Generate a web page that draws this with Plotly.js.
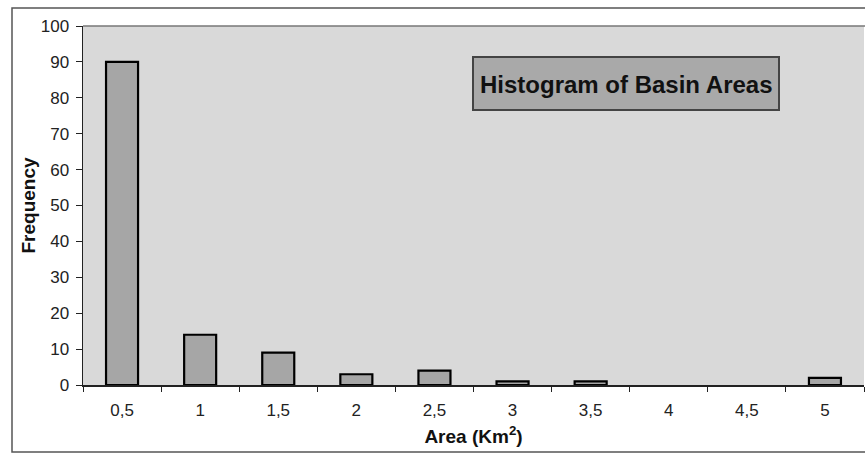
<!DOCTYPE html>
<html>
<head>
<meta charset="utf-8">
<script src="https://cdn.plot.ly/plotly-3.0.1.min.js"></script>
<style>html,body{margin:0;padding:0;background:#fff;}#chart{width:865px;height:457px;}</style>
</head>
<body>
<div id="chart"></div>
<script>
var categories = ["0,5", "1", "1,5", "2", "2,5", "3", "3,5", "4", "4,5", "5"];
var frequency = [90, 14, 9, 3, 4, 1, 1, 0, 0, 2];
var yTicks = [0, 10, 20, 30, 40, 50, 60, 70, 80, 90, 100];

var W = 865, H = 457, L = 83, R = 1, T = 26, B = 72;
var pw = W - L - R, ph = H - T - B;
function px(x) { return (x - L) / pw; }
function py(y) { return (H - B - y) / ph; }

var trace = {
  type: "bar",
  x: categories,
  y: frequency,
  width: 0.41,
  marker: {
    color: "#a6a6a6",
    line: { color: "#000", width: frequency.map(function (v) { return v > 0 ? 2.2 : 0; }) }
  },
  hoverinfo: "x+y"
};

var layout = {
  width: W, height: H,
  margin: { l: L, r: R, t: T, b: B, pad: 0 },
  paper_bgcolor: "#ffffff",
  plot_bgcolor: "#d9d9d9",
  showlegend: false,
  font: { family: "Arial, 'Liberation Sans', sans-serif", color: "#1a1a1a" },
  xaxis: {
    type: "category",
    tickson: "boundaries",
    ticks: "outside", ticklen: 5, tickwidth: 1, tickcolor: "#222",
    ticklabelstandoff: 9,
    showline: true, linecolor: "#222", linewidth: 1.5,
    showgrid: false, zeroline: false,
    tickfont: { size: 17, color: "#222" },
    title: { text: "<b>Area (Km<sup>2</sup>)</b>", font: { size: 19, color: "#111" }, standoff: 11 },
    fixedrange: true
  },
  yaxis: {
    range: [0, 100],
    tickvals: yTicks,
    ticks: "outside", ticklen: 6, tickwidth: 1, tickcolor: "#222",
    ticklabelstandoff: 3,
    showline: true, linecolor: "#222", linewidth: 1.5,
    showgrid: false, zeroline: false,
    tickfont: { size: 17, color: "#222" },
    title: { text: "<b>Frequency</b>", font: { size: 19, color: "#111" }, standoff: 0 },
    fixedrange: true
  },
  shapes: [
    { type: "rect", xref: "paper", yref: "paper", x0: px(12), x1: px(880), y0: py(452), y1: py(8),
      line: { color: "#555", width: 1.5 }, fillcolor: "rgba(0,0,0,0)", layer: "below" },
    { type: "line", xref: "paper", yref: "paper", x0: 0, x1: 1.02, y0: 1, y1: 1,
      line: { color: "#777", width: 1.5 } },
    { type: "rect", xref: "paper", yref: "paper", x0: px(473), x1: px(779), y0: py(110), y1: py(57),
      line: { color: "#444", width: 2 }, fillcolor: "#a9a9a9", layer: "above" }
  ],
  annotations: [
    { xref: "paper", yref: "paper", x: px(626), y: py(84), xanchor: "center", yanchor: "middle",
      text: "<b>Histogram of Basin Areas</b>", showarrow: false,
      font: { size: 24, color: "#111" } }
  ]
};

Plotly.newPlot("chart", [trace], layout, { displayModeBar: false, staticPlot: true });
</script>
</body>
</html>
